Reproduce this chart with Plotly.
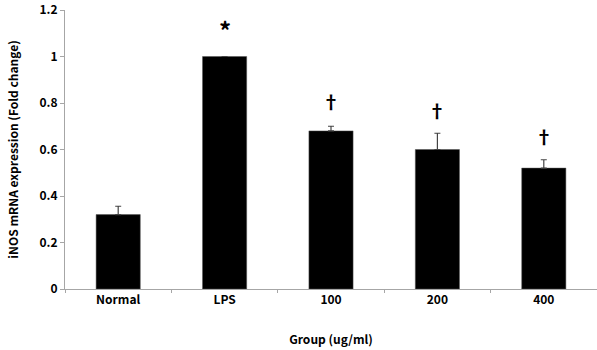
import plotly.graph_objects as go

groups = ["Normal", "LPS", "100", "200", "400"]
values = [0.32, 1.0, 0.68, 0.60, 0.52]
errors = [0.036, 0.0, 0.02, 0.07, 0.036]
marks = ["", "*", "†", "†", "†"]
mark_y = [None, 1.115, 0.81, 0.77, 0.66]

fig = go.Figure()
fig.add_trace(go.Bar(
    x=groups, y=values,
    marker=dict(color="black", line=dict(color="#555555", width=0.5)),
    error_y=dict(type="data", array=errors, symmetric=False, arrayminus=[0]*5,
                 visible=True, color="#444444", thickness=1.2, width=3),
))

for i, (m, my) in enumerate(zip(marks, mark_y)):
    if m:
        fig.add_annotation(x=i, y=my, xref="x", yref="y", text=f"<b>{m}</b>", showarrow=False,
                           font=dict(size=24 if m == "*" else 18, color="black"),
                           yanchor="middle")

font_family = "Noto Sans CJK KR, Noto Sans, sans-serif"
fig.update_layout(
    width=597, height=350,
    margin=dict(l=65, r=0, t=10, b=61),
    paper_bgcolor="white", plot_bgcolor="white",
    bargap=0.585,
    showlegend=False,
    font=dict(family=font_family, size=12, color="black"),
    xaxis=dict(
        type="category", range=[-0.5, 4.5], autorange=False,
        showline=True, linecolor="#a6a6a6", linewidth=1,
        ticks="outside", tickson="boundaries", ticklen=3, tickcolor="#a6a6a6",
        tickfont=dict(size=12, family=font_family, weight="bold"),
        tickangle=0,
        title=dict(text="<b>Group (ug/ml)</b>", font=dict(size=12), standoff=29),
        showgrid=False,
    ),
    yaxis=dict(
        range=[0, 1.2], dtick=0.2, tickformat="~g",
        showline=True, linecolor="#a6a6a6", linewidth=1,
        ticks="outside", ticklen=4, tickcolor="#a6a6a6",
        tickfont=dict(size=12, family=font_family, weight="bold"),
        title=dict(text="<b>iNOS mRNA expression (Fold change)</b>", font=dict(size=12), standoff=18),
        showgrid=False, zeroline=False,
    ),
)

fig.write_html("out.html")
